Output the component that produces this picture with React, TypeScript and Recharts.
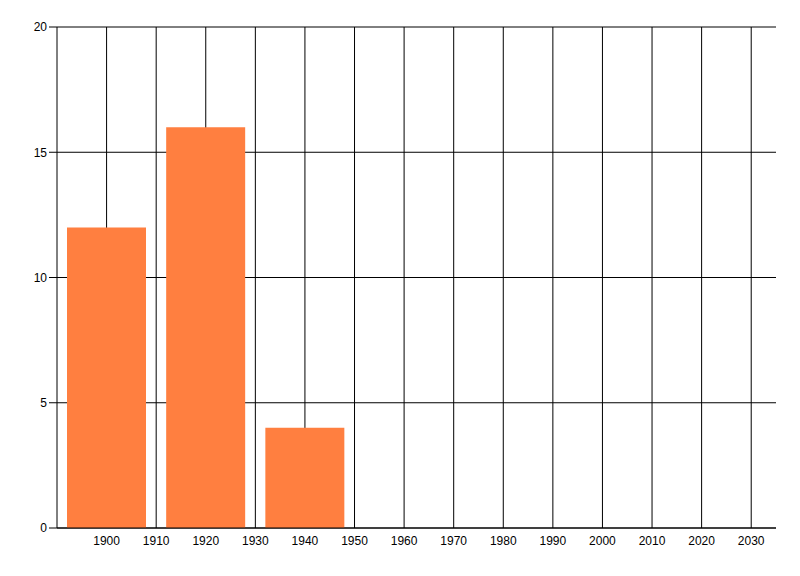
import React from 'react';
import { BarChart, Bar, XAxis, YAxis, CartesianGrid } from 'recharts';

const years = [1900, 1920, 1940];
const counts = [12, 16, 4];
const xTicks = [1900, 1910, 1920, 1930, 1940, 1950, 1960, 1970, 1980, 1990, 2000, 2010, 2020, 2030];
const yTicks = [0, 5, 10, 15, 20];
const xDomain = [1890, 2035];

const data = years.map((year, i) => ({ year, count: counts[i] }));

const font = { fontFamily: '"Liberation Sans Narrow", "Liberation Sans", Arial, sans-serif', fontSize: 12, fill: '#000' };

// only draw vertical grid lines at the labelled years (no border at the right edge)
const verticalLines = ({ xAxis, offset }: any) => {
  if (xAxis && typeof xAxis.scale === 'function') return xTicks.map((t) => xAxis.scale(t));
  const [lo, hi] = xDomain;
  return xTicks.map((t) => offset.left + ((t - lo) / (hi - lo)) * offset.width);
};

export default function App() {
  return (
    <div style={{ position: 'absolute', left: 0, top: 0, width: 800, height: 576, background: '#fff' }}>
      <BarChart width={800} height={576} data={data} margin={{ top: 27, right: 24, bottom: 0, left: 0 }}>
        <CartesianGrid stroke="#000" strokeWidth={1} horizontal vertical verticalCoordinatesGenerator={verticalLines} />
        <XAxis
          dataKey="year"
          type="number"
          domain={xDomain}
          ticks={xTicks}
          allowDataOverflow
          height={48}
          tickLine={false}
          tickSize={6}
          tickMargin={2}
          axisLine={{ stroke: '#000' }}
          tick={font}
        />
        <YAxis
          domain={[0, 20]}
          ticks={yTicks}
          width={57}
          tickSize={8}
          tickMargin={2}
          axisLine={{ stroke: '#000' }}
          tickLine={{ stroke: '#000' }}
          tick={font}
        />
        <Bar dataKey="count" fill="#ff7f40" barSize={79} isAnimationActive={false} />
      </BarChart>
    </div>
  );
}
